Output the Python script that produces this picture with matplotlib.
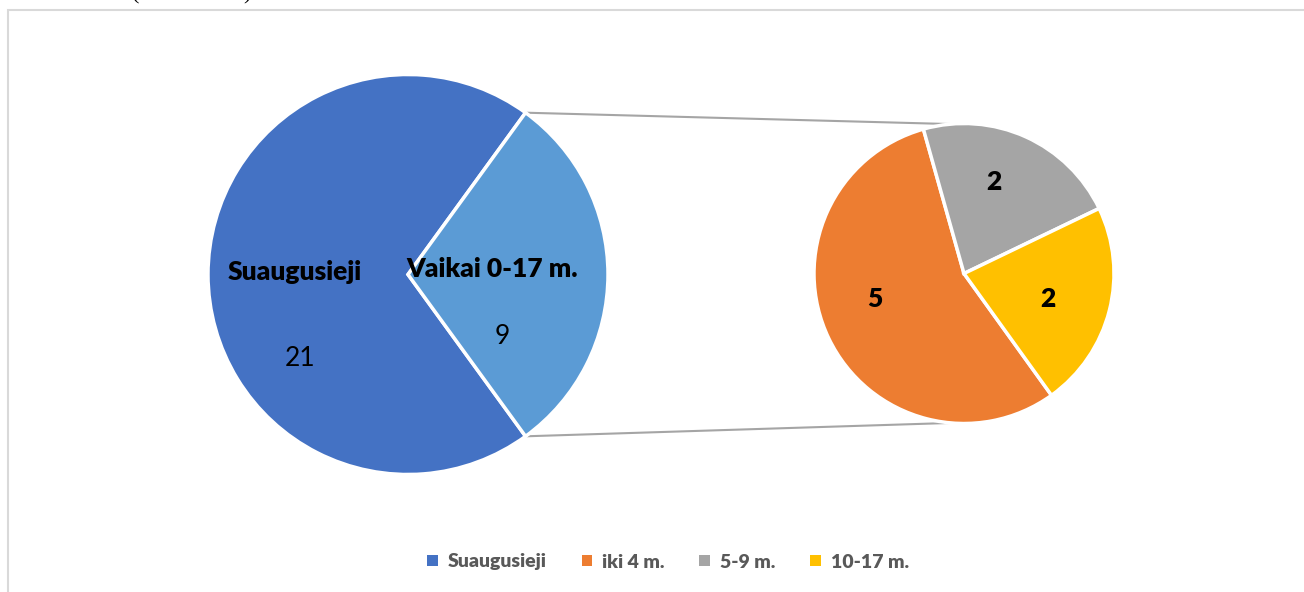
import matplotlib.pyplot as plt
from matplotlib.patches import Rectangle, Patch
import numpy as np

# data
main_labels = ["Suaugusieji", "Vaikai 0-17 m."]
main_values = [21, 9]
main_colors = ["#4472C4", "#5B9BD5"]

sub_labels = ["iki 4 m.", "5-9 m.", "10-17 m."]
sub_values = [5, 2, 2]
sub_colors = ["#ED7D31", "#A5A5A5", "#FFC000"]

legend_labels = ["Suaugusieji"] + sub_labels
legend_colors = [main_colors[0]] + sub_colors

W, H = 1304, 592
plt.rcParams['font.family'] = ['Lato', 'DejaVu Sans']

fig = plt.figure(figsize=(W / 100, H / 100), dpi=100)
ax = fig.add_axes([0, 0, 1, 1])


def py(y):
    # pixel row -> data y (y up)
    return H - y


# chart border
ax.add_patch(Rectangle((8, py(H + 20)), W + 20, H + 10, fill=False,
                       edgecolor="#D9D9D9", lw=1.5))

# cut-off text at the very top (only its lower edge shows, as in the source)
ax.text(132, py(-1), "(", fontsize=16, family="Liberation Serif", va="baseline")
ax.text(243, py(-1), ")", fontsize=16, family="Liberation Serif", va="baseline")

# main pie
c1, r1 = (408, py(274.5)), 200
ax.pie(main_values, colors=main_colors, center=c1, radius=r1,
       startangle=-54, counterclock=False,
       wedgeprops=dict(edgecolor="white", linewidth=2.5))

# sub pie
c2, r2 = (964, py(273.5)), 150
ax.pie(sub_values, colors=sub_colors, center=c2, radius=r2,
       startangle=-54.3, counterclock=False,
       wedgeprops=dict(edgecolor="white", linewidth=2.5))

# connector lines
half = 180 * main_values[1] / sum(main_values)
for sgn in (1, -1):
    a1 = np.deg2rad(sgn * half)
    a2 = np.deg2rad(sgn * 95)
    x0, y0 = c1[0] + r1 * np.cos(a1), c1[1] + r1 * np.sin(a1)
    x1, y1 = c2[0] + r2 * np.cos(a2), c2[1] + r2 * np.sin(a2)
    ax.plot([x0, x1], [y0, y1], color="#A5A5A5", lw=1.5, zorder=0)

# labels
fs = 19
ax.text(295, py(272), main_labels[0], fontsize=fs, fontweight="heavy", ha="center", va="center")
ax.text(300, py(358), str(main_values[0]), fontsize=fs, ha="center", va="center")
ax.text(492, py(269), main_labels[1], fontsize=fs, fontweight="heavy", ha="center", va="center")
ax.text(502, py(336), str(main_values[1]), fontsize=fs, ha="center", va="center")

ax.text(875, py(299), str(sub_values[0]), fontsize=fs, fontweight="heavy", ha="center", va="center")
ax.text(994, py(182), str(sub_values[1]), fontsize=fs, fontweight="heavy", ha="center", va="center")
ax.text(1048, py(299), str(sub_values[2]), fontsize=fs, fontweight="heavy", ha="center", va="center")

ax.set_xlim(0, W)
ax.set_ylim(0, H)
ax.set_aspect("equal")
ax.axis("off")

handles = [Patch(facecolor=c, edgecolor="none") for c in legend_colors]
leg = fig.legend(handles, legend_labels, loc="center", bbox_to_anchor=(668 / W, 1 - 562 / H),
                 ncol=4, frameon=False, handlelength=0.55, handleheight=0.55,
                 handletextpad=0.5, columnspacing=1.8,
                 prop=dict(size=14, weight="heavy"))
for t in leg.get_texts():
    t.set_color("#595959")

fig.savefig("out.png", dpi=100)
